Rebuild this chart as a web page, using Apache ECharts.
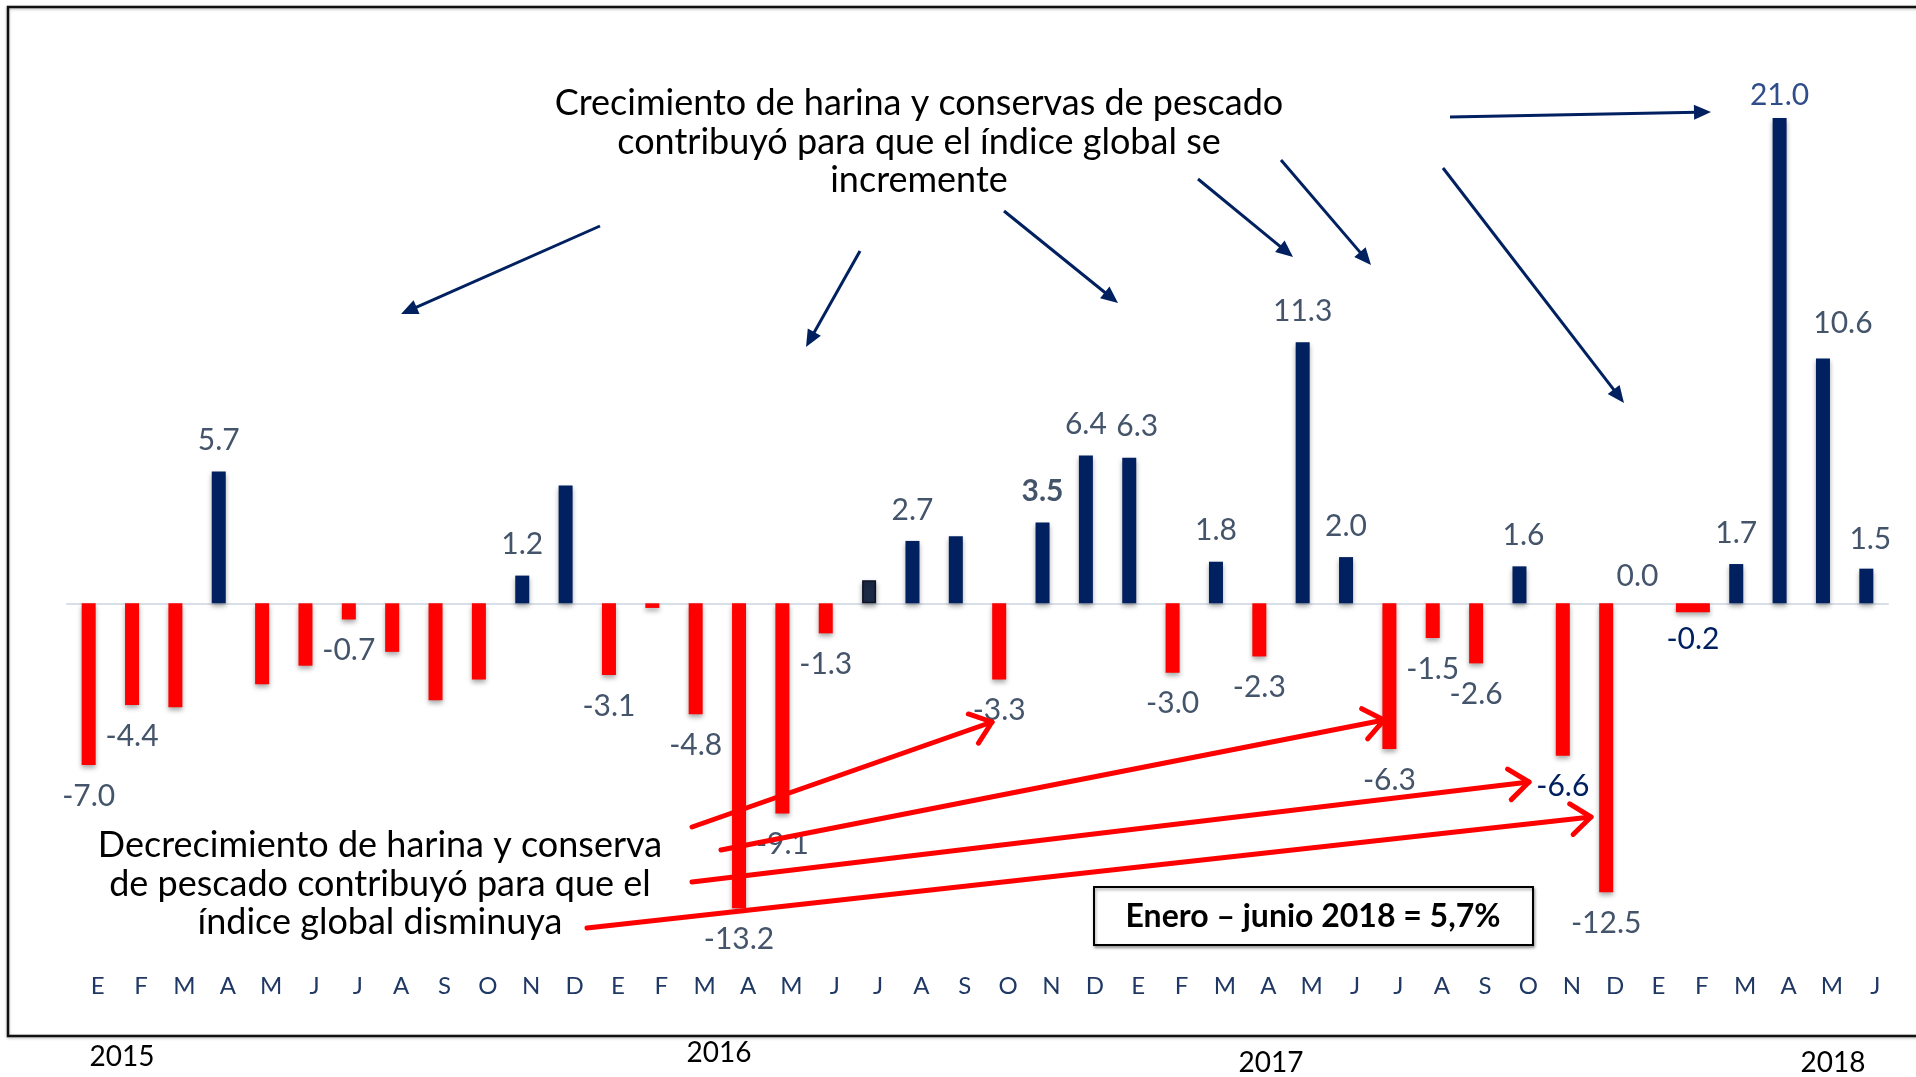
<!DOCTYPE html>
<html>
<head>
<meta charset="utf-8">
<script src="https://cdn.jsdelivr.net/npm/echarts/dist/echarts.min.js"></script>
<style>
html,body{margin:0;padding:0;background:#fff;}
#main{width:1916px;height:1077px;}
</style>
</head>
<body>
<div id="main"></div>
<script>
// ---------------- DATA ----------------
const months = ['E','F','M','A','M','J','J','A','S','O','N','D',
                'E','F','M','A','M','J','J','A','S','O','N','D',
                'E','F','M','A','M','J','J','A','S','O','N','D',
                'E','F','M','A','M','J'];
const values = [
  -7.0, -4.4, -4.5, 5.7, -3.5, -2.7, -0.7, -2.1, -4.2, -3.3, 1.2, 5.1,
  -3.1, -0.2, -4.8, -13.2, -9.1, -1.3, 1.0, 2.7, 2.9, -3.3, 3.5, 6.4,
  6.3, -3.0, 1.8, -2.3, 11.3, 2.0, -6.3, -1.5, -2.6, 1.6, -6.6, -12.5,
  0.0, -0.2, 1.7, 21.0, 10.6, 1.5
];
const labelShown = [
  true, true, false, true, false, false, true, false, false, false, true, false,
  true, false, true, true, true, true, false, true, false, true, true, true,
  true, true, true, true, true, true, true, true, true, true, true, true,
  true, true, true, true, true, true
];
const wideBarIndex = 37;         // F 2018 drawn as a wider block
const years = ['2015', '2016', '2017', '2018'];
const noteUp = ['Crecimiento de harina y conservas de pescado',
                'contribuyó para que el índice global se',
                'incremente'];
const noteDown = ['Decrecimiento de harina y conserva',
                  'de pescado contribuyó para que el',
                  'índice global disminuya'];
const boxText = 'Enero – junio 2018 = 5,7%';

// ---------------- STYLE / LAYOUT ----------------
const RED = '#FF0000', NAVY = '#002060', LABEL = '#44546A';
const FONT = 'Lato';
const labelOverrides = {
  22: {fontWeight: 'bold'},
  24: {offset: [8, 0]},
  33: {offset: [4, 0]},
  34: {color: NAVY},
  36: {offset: [-12, 4]},
  39: {color: '#2E4D8A', offset: [0, 8]},
  40: {offset: [20, -4]},
  41: {offset: [4, 2]}
};
const itemOverrides = {18: {color: '#1D2A47', borderColor: '#0A1224', borderWidth: 1.5}};
const yearPos = [[122, 1057], [719, 1053], [1271, 1063], [1833, 1063]];
const navyArrows = [
  [600, 226, 401, 314], [860, 251, 806, 347], [1004, 211, 1118, 303],
  [1198, 179, 1293, 257], [1281, 160, 1371, 265], [1443, 168, 1624, 403],
  [1450, 117, 1711, 112]
];
const redArrows = [
  [692, 827, 992, 722], [721, 850, 1384, 720], [692, 882, 1529, 782], [587, 928, 1591, 817]
];

function navyArrow(a) {
  const [x1, y1, x2, y2] = a;
  const dx = x2 - x1, dy = y2 - y1, L = Math.hypot(dx, dy), ux = dx / L, uy = dy / L;
  const hl = 17, hw = 7.5;
  const bx = x2 - ux * hl, by = y2 - uy * hl;
  return [
    {type: 'line', z: 20, shape: {x1: x1, y1: y1, x2: bx + ux * 3, y2: by + uy * 3},
     style: {stroke: NAVY, lineWidth: 3}},
    {type: 'polygon', z: 20, shape: {points: [[x2, y2], [bx - uy * hw, by + ux * hw], [bx + uy * hw, by - ux * hw]]},
     style: {fill: NAVY}}
  ];
}
function redArrow(a) {
  const [x1, y1, x2, y2] = a;
  const dx = x2 - x1, dy = y2 - y1, L = Math.hypot(dx, dy), ux = dx / L, uy = dy / L;
  const arm = 25, th = 38 * Math.PI / 180;
  const bx = -ux, by = -uy;
  const p1 = [x2 + arm * (bx * Math.cos(th) - by * Math.sin(th)), y2 + arm * (bx * Math.sin(th) + by * Math.cos(th))];
  const p2 = [x2 + arm * (bx * Math.cos(-th) - by * Math.sin(-th)), y2 + arm * (bx * Math.sin(-th) + by * Math.cos(-th))];
  return [
    {type: 'line', z: 20, shape: {x1: x1, y1: y1, x2: x2, y2: y2},
     style: {stroke: RED, lineWidth: 5, lineCap: 'round'}},
    {type: 'polyline', z: 20, shape: {points: [p1, [x2, y2], p2]},
     style: {stroke: RED, lineWidth: 5, lineCap: 'round', lineJoin: 'round', fill: null}}
  ];
}

const shadow = {shadowColor: 'rgba(0,0,0,0.35)', shadowBlur: 5, shadowOffsetY: 3};

const mainData = values.map((v, i) => {
  if (i === wideBarIndex) return '-';
  return {
    value: v,
    itemStyle: Object.assign({color: v < 0 ? RED : NAVY}, itemOverrides[i] || {}),
    label: Object.assign({show: labelShown[i], position: v < 0 ? 'bottom' : 'top'}, labelOverrides[i] || {})
  };
});
const wideData = values.map((v, i) => i === wideBarIndex ? {
  value: v,
  label: {show: labelShown[i], position: 'bottom', color: NAVY, distance: 12}
} : '-');

const graphics = [];
graphics.push({type: 'rect', z: 1, shape: {x: 8, y: 7, width: 1940, height: 1029},
  style: {fill: null, stroke: '#111', lineWidth: 2.5, shadowColor: 'rgba(0,0,0,0.3)', shadowBlur: 3, shadowOffsetY: 1}});
years.forEach((y, i) => graphics.push({type: 'text', z: 5,
  style: {text: y, x: yearPos[i][0], y: yearPos[i][1], font: '28px ' + FONT, fill: '#000', align: 'center', verticalAlign: 'middle'}}));
graphics.push({type: 'text', z: 5, style: {text: noteUp.join('\n'), x: 919, y: 142, font: '36px ' + FONT,
  lineHeight: 38.6, fill: '#000', align: 'center', verticalAlign: 'middle'}});
graphics.push({type: 'text', z: 5, style: {text: noteDown.join('\n'), x: 380, y: 884, font: '36px ' + FONT,
  lineHeight: 38.6, fill: '#000', align: 'center', verticalAlign: 'middle'}});
navyArrows.forEach(a => graphics.push(...navyArrow(a)));
redArrows.forEach(a => graphics.push(...redArrow(a)));
graphics.push({type: 'rect', z: 25, shape: {x: 1094, y: 887, width: 439, height: 58},
  style: {fill: '#fff', stroke: '#000', lineWidth: 2, shadowColor: 'rgba(0,0,0,0.35)', shadowBlur: 3, shadowOffsetX: 1, shadowOffsetY: 2}});
graphics.push({type: 'text', z: 26, style: {text: boxText, x: 1313, y: 917, font: 'bold 32px ' + FONT,
  fill: '#000', align: 'center', verticalAlign: 'middle'}});

const chart = echarts.init(document.getElementById('main'), null, {renderer: 'canvas'});
chart.setOption({
  animation: false,
  backgroundColor: '#fff',
  grid: {left: 67, top: 95, width: 1821, height: 878},
  xAxis: [
    {type: 'category', data: months, position: 'bottom',
     axisLine: {onZero: true, lineStyle: {color: '#D9DFE8', width: 2}},
     axisTick: {show: false}, axisLabel: {show: false}, splitLine: {show: false}},
    {type: 'category', data: months, position: 'bottom',
     axisLine: {show: false, onZero: false}, axisTick: {show: false}, splitLine: {show: false},
     axisLabel: {interval: 0, margin: 1, color: '#1F3864', fontFamily: FONT, fontSize: 24, padding: [0, 0, 0, 18]}}
  ],
  yAxis: {type: 'value', min: -16, max: 22, show: false, splitLine: {show: false}},
  series: [
    {type: 'bar', xAxisIndex: 0, data: mainData, barWidth: 14, z: 3,
     itemStyle: shadow,
     label: {distance: 16, fontFamily: FONT, fontSize: 30, color: LABEL,
             formatter: p => Number(p.value).toFixed(1)}},
    {type: 'bar', xAxisIndex: 1, data: wideData, barWidth: 34, barMinHeight: 9, z: 3,
     itemStyle: Object.assign({color: RED}, shadow),
     label: {fontFamily: FONT, fontSize: 30, formatter: p => Number(p.value).toFixed(1)}}
  ],
  graphic: graphics
});
</script>
</body>
</html>
